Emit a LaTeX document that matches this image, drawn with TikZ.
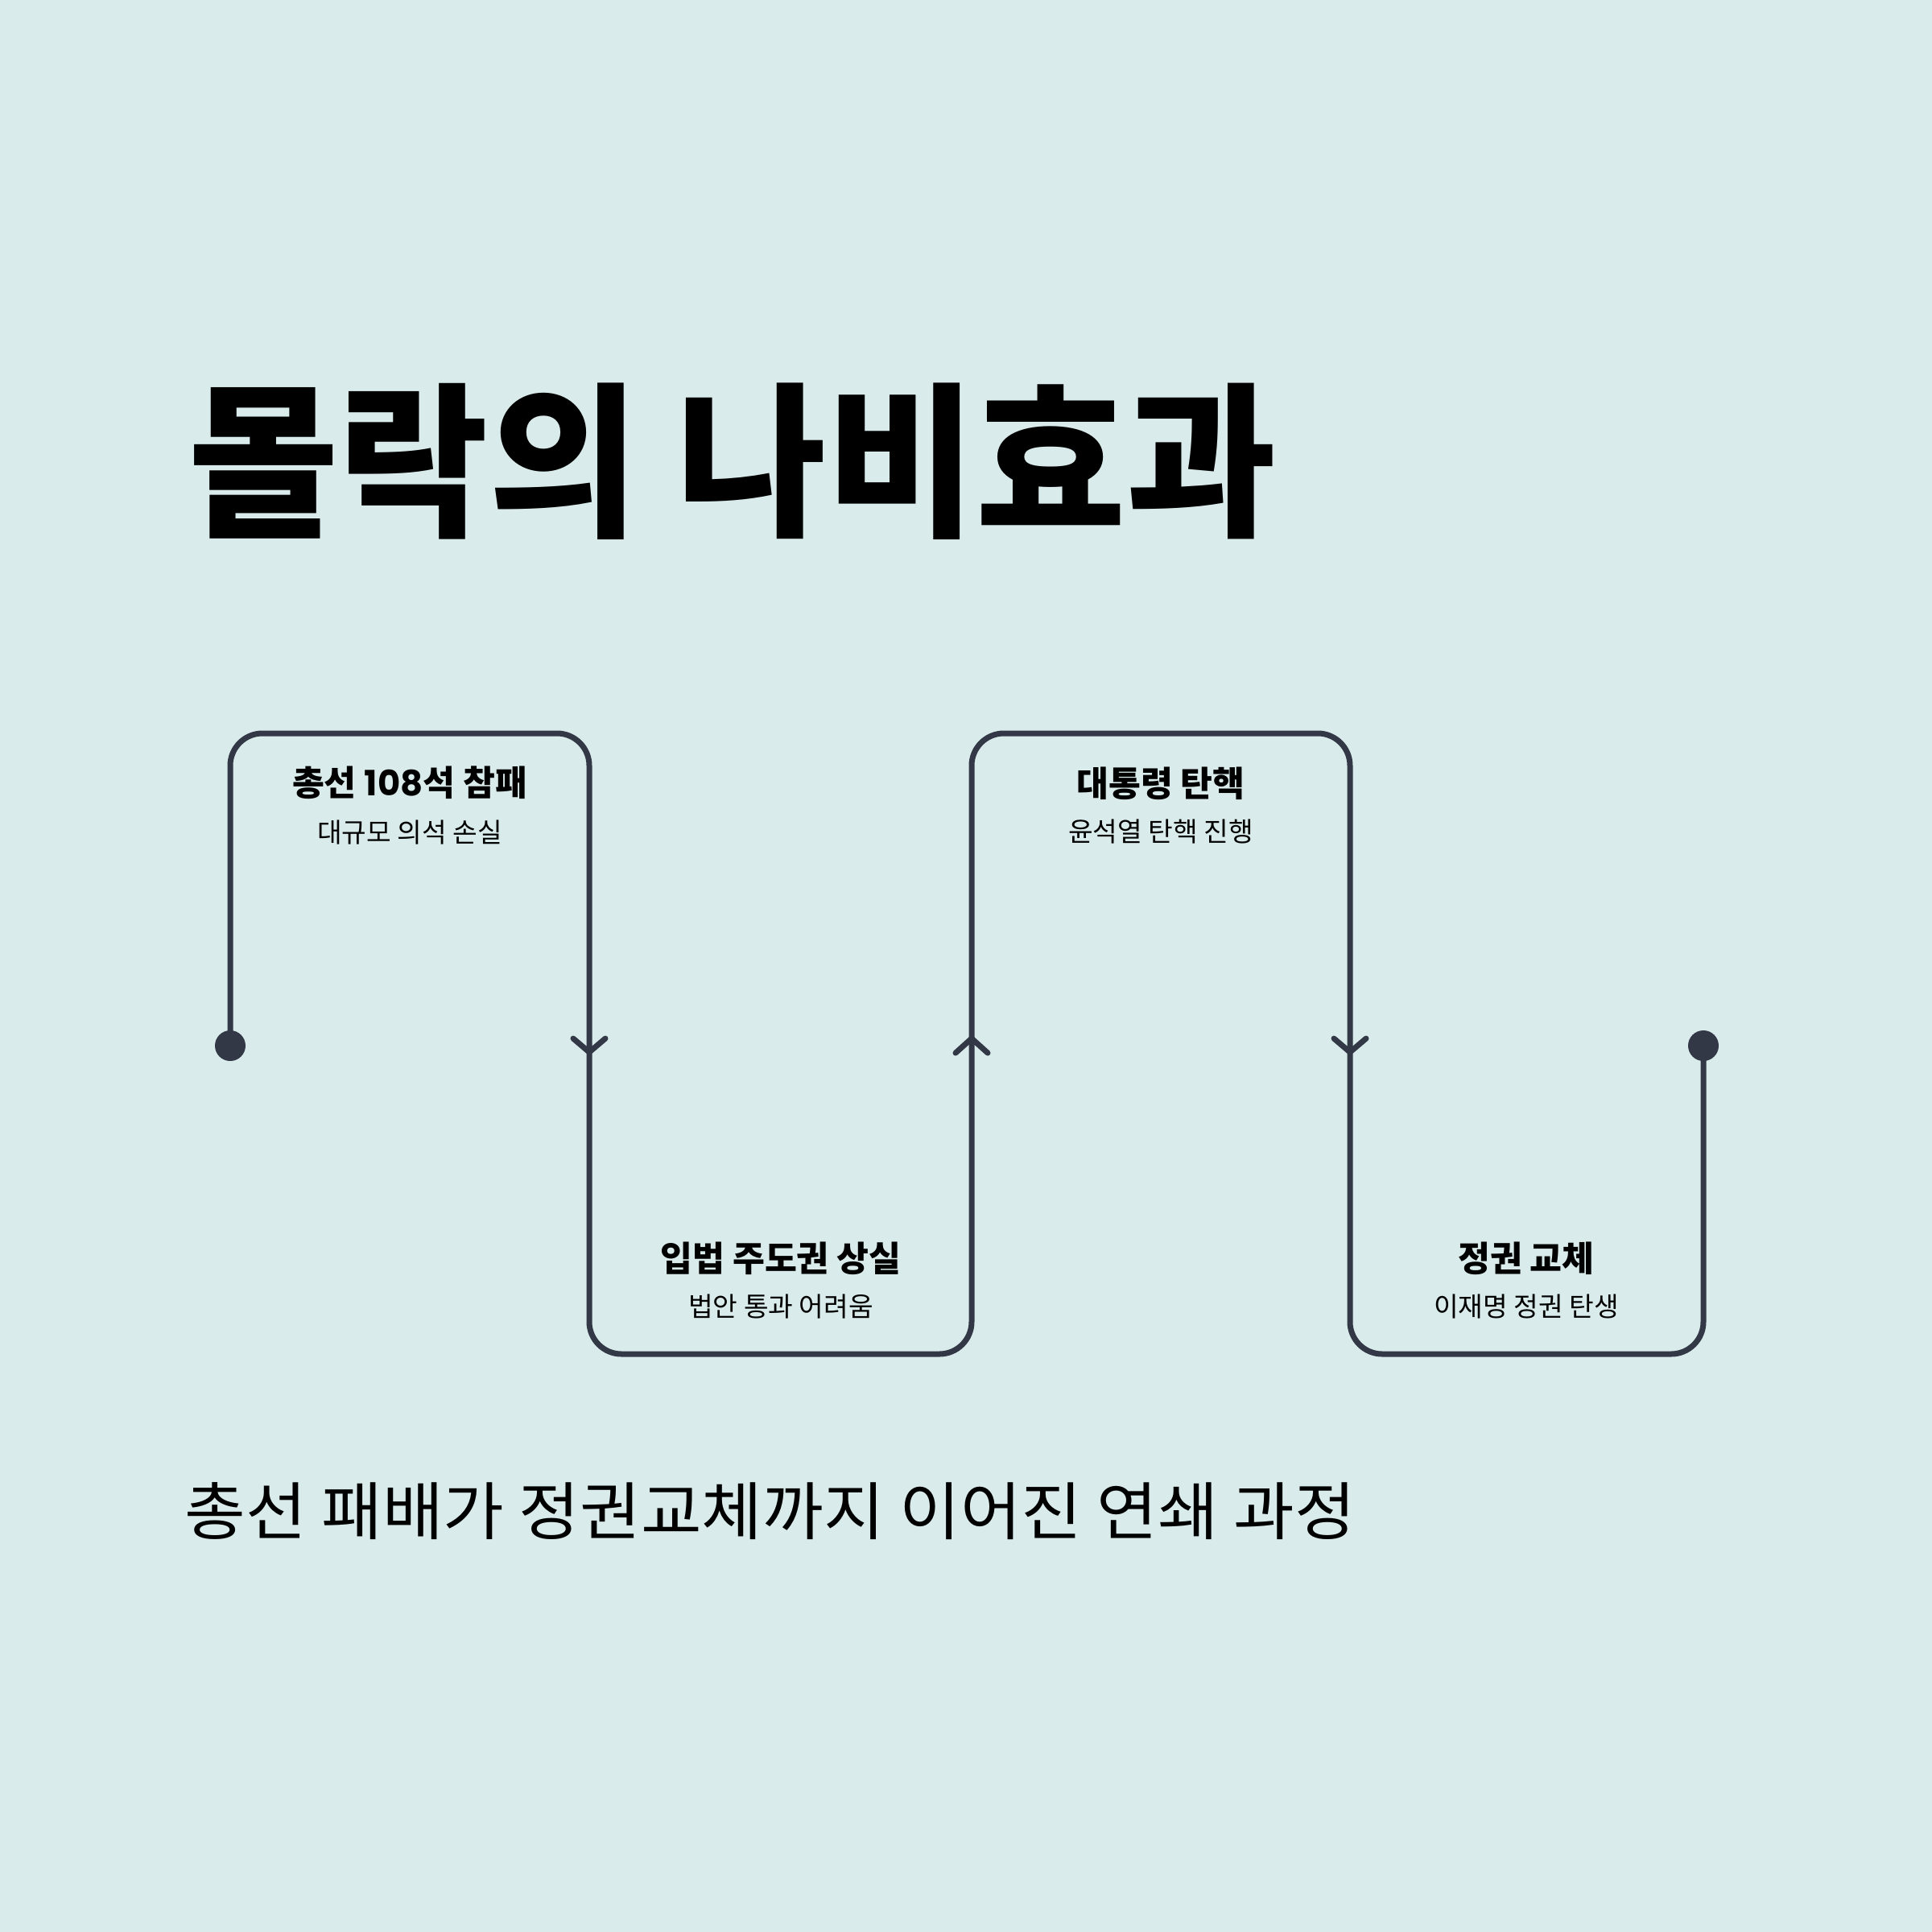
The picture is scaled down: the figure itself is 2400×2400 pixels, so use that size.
\documentclass[tikz,border=0pt]{standalone}
\usepackage{fontspec}
\usetikzlibrary{calc}
\setmainfont{Noto Sans CJK KR}
\newfontfamily\popp{Poppins}
\definecolor{bg}{HTML}{D9EBEA}
\definecolor{ln}{HTML}{333847}
\begin{document}
\begin{tikzpicture}[x=0.3pt,y=-0.3pt,
 flow/.style={draw=ln,line width=2.1pt,rounded corners=12pt},
 chev/.style={draw=ln,line width=2.1pt,line cap=round,line join=round},
 enddot/.style={circle,fill=ln,inner sep=0pt,minimum size=11.4pt},
 head/.style={font=\bfseries\fontsize{13}{15}\selectfont,inner sep=0pt},
 sub/.style={font=\fontsize{10}{12}\selectfont,inner sep=0pt},
]
\fill[bg] (0,0) rectangle (2400,2400);
\useasboundingbox (0,0) rectangle (2400,2400);

\node[anchor=west,inner sep=0pt,xscale=0.98,font=\bfseries\fontsize{62}{70}\selectfont] (title) at (234,573) {몰락의 나비효과};
\node[anchor=west,inner sep=0pt,xscale=1.05,font=\fontsize{23.5}{28}\selectfont] (subtitle) at (229,1877) {총선 패배가 정권교체까지 이어진 연쇄 과정};

% path corners
\coordinate (c1) at (286,911);
\coordinate (c2) at (732,911);
\coordinate (c3) at (732,1682);
\coordinate (c4) at (1207,1682);
\coordinate (c5) at (1207,911);
\coordinate (c6) at (1677,911);
\coordinate (c7) at (1677,1682);
\coordinate (c8) at (2116,1682);

\node[enddot] (start) at (286,1299) {};
\node[enddot] (end) at (2116,1299) {};

\draw[flow] (start.center) -- (c1) -- (c2) -- (c3) -- (c4) -- (c5) -- (c6) -- (c7) -- (c8) -- (end.center);

% chevrons
\coordinate (a1) at (732,1307);
\coordinate (a2) at (1207,1290);
\coordinate (a3) at (1677,1307);
\draw[chev] ($(a1)+(-20,-17)$) -- (a1) -- ($(a1)+(20,-17)$);
\draw[chev] ($(a2)+(-20,18)$) -- (a2) -- ($(a2)+(20,18)$);
\draw[chev] ($(a3)+(-20,-17)$) -- (a3) -- ($(a3)+(20,-17)$);

% labels
\node[head] (h1) at (509,972) {총선 {\popp\bfseries 108}석 참패};
\node[sub] (s1) at (509,1034) {대규모 의석 손실};
\node[head] (h2) at (970,1563) {입법 주도권 상실};
\node[sub] (s2) at (970,1623) {법안 통과 어려움};
\node[head] (h3) at (1442,973) {대통령 탄핵};
\node[sub] (s3) at (1442,1033) {윤석열 탄핵 진행};
\node[head] (h4) at (1896,1563) {정권 교체};
\node[sub] (s4) at (1896,1623) {이재명 정권 탄생};
\end{tikzpicture}
\end{document}
